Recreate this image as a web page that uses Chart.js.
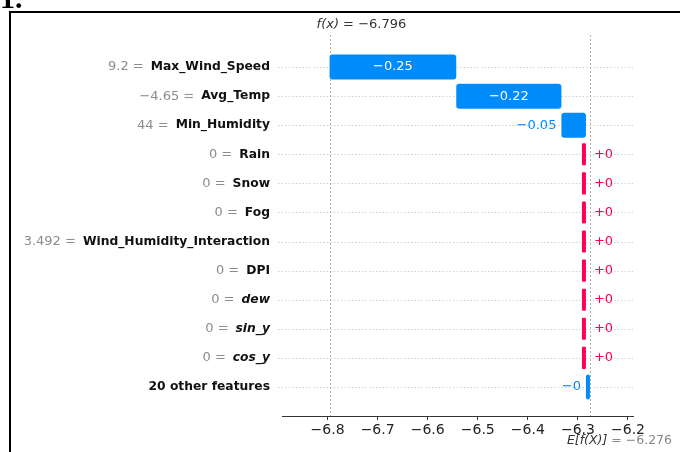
<!DOCTYPE html>
<html>
<head>
<meta charset="utf-8">
<script src="https://cdn.jsdelivr.net/npm/chart.js@4.4.3/dist/chart.umd.min.js"></script>
<style>
  html, body { margin: 0; padding: 0; background: #fff; }
  #wrap { position: relative; width: 680px; height: 452px; overflow: hidden; background: #fff; }
  #chart { position: absolute; left: 0; top: 0; }
  #frame { position: absolute; left: 9px; top: 11px; width: 700px; height: 460px;
           border-top: 2px solid #000; border-left: 2px solid #000; pointer-events: none; }
  #num { position: absolute; left: 0; top: -17px; font: bold 30px "Liberation Serif", serif;
         line-height: 30px; color: #000; }
</style>
</head>
<body>
<div id="wrap">
  <canvas id="chart" width="680" height="452"></canvas>
  <div id="frame"></div>
  <div id="num">1.</div>
</div>
<script>
// SHAP waterfall data (top row first)
const featureValues = ['9.2', '\u22124.65', '44', '0', '0', '0', '3.492', '0', '0', '0', '0', ''];
const featureNames = ['Max_Wind_Speed', 'Avg_Temp', 'Min_Humidity', 'Rain', 'Snow', 'Fog',
  'Wind_Humidity_Interaction', 'DPI', 'dew', 'sin_y', 'cos_y', '20 other features'];
const italicNames = ['dew', 'sin_y', 'cos_y'];
const shapValues = [-0.253, -0.21, -0.049, 0, 0, 0, 0, 0, 0, 0, 0, -0.008];
const shapLabels = ['\u22120.25', '\u22120.22', '\u22120.05', '+0', '+0', '+0', '+0', '+0', '+0', '+0', '+0', '\u22120'];
const baseValue = -6.276;
const fxValue = -6.796;
const xTickValues = [-6.8, -6.7, -6.6, -6.5, -6.4, -6.3, -6.2];
const xMin = -6.891, xMax = -6.19;

const blue = '#008bfb', red = '#ff0051';
const FONT = '"DejaVu Sans", sans-serif';
const minus = s => s.replace('-', '\u2212');

// waterfall runs from the base value at the bottom up to f(x) at the top
const starts = [], ends = [];
let run = baseValue;
for (let i = shapValues.length - 1; i >= 0; i--) {
  starts[i] = run;
  run += shapValues[i];
  ends[i] = run;
}

const negRows = [], posRows = [];
shapValues.forEach((v, i) => {
  const pt = { y: i, x: [starts[i], ends[i]] };
  (v < 0 ? negRows : posRows).push(pt);
});

const waterfallDecor = {
  id: 'waterfallDecor',
  beforeDatasetsDraw(chart) {
    const { ctx, chartArea: a, scales: { x, y } } = chart;
    ctx.save();
    ctx.lineWidth = 1;
    ctx.strokeStyle = '#d0d0d0';
    ctx.setLineDash([1.5, 2]);
    featureNames.forEach((_, i) => {
      const py = Math.round(y.getPixelForValue(i)) + 0.5;
      ctx.beginPath(); ctx.moveTo(a.left - 4, py); ctx.lineTo(a.right, py); ctx.stroke();
    });
    // vertical guides at f(x) and E[f(X)]
    ctx.strokeStyle = '#b0b0b0';
    ctx.setLineDash([2, 2]);
    [fxValue, baseValue].forEach(v => {
      const px = Math.round(x.getPixelForValue(v)) + 0.5;
      ctx.beginPath(); ctx.moveTo(px, a.top - 3); ctx.lineTo(px, a.bottom); ctx.stroke();
    });
    ctx.restore();
  },
  afterDatasetsDraw(chart) {
    const { ctx } = chart;
    ctx.save();
    ctx.font = '13px ' + FONT;
    ctx.textBaseline = 'middle';
    chart.data.datasets.forEach((ds, di) => {
      const meta = chart.getDatasetMeta(di);
      meta.data.forEach((el, j) => {
        const row = ds.data[j].y;
        const txt = shapLabels[row];
        const left = Math.min(el.x, el.base), right = Math.max(el.x, el.base);
        const tw = ctx.measureText(txt).width;
        if (right - left > tw + 8) {
          ctx.fillStyle = '#fff';
          ctx.textAlign = 'center';
          ctx.fillText(txt, (left + right) / 2, el.y);
        } else if (shapValues[row] < 0) {
          ctx.fillStyle = blue;
          ctx.textAlign = 'right';
          ctx.fillText(txt, left - 5, el.y);
        } else {
          ctx.fillStyle = red;
          ctx.textAlign = 'left';
          ctx.fillText(txt, right + 8, el.y);
        }
      });
    });
    ctx.restore();
  },
  afterDraw(chart) {
    const { ctx, chartArea: a, scales: { x, y } } = chart;
    ctx.save();
    ctx.textBaseline = 'middle';
    const labelRight = a.left - 12;
    featureNames.forEach((name, i) => {
      const py = y.getPixelForValue(i);
      ctx.font = (italicNames.includes(name) ? 'italic bold ' : 'bold ') + '12.3px ' + FONT;
      ctx.fillStyle = '#111';
      ctx.textAlign = 'right';
      ctx.fillText(name, labelRight, py);
      if (featureValues[i] !== '') {
        const nw = ctx.measureText(name).width;
        ctx.font = '13px ' + FONT;
        ctx.fillStyle = '#8c8c8c';
        ctx.fillText(featureValues[i] + ' =', labelRight - nw - 7, py);
      }
    });

    // f(x) label at the top
    let px = x.getPixelForValue(fxValue) - 13;
    ctx.textAlign = 'left';
    ctx.font = 'italic 13px ' + FONT;
    ctx.fillStyle = '#333';
    ctx.fillText('f(x)', px, 25);
    px += ctx.measureText('f(x)').width;
    ctx.font = '13px ' + FONT;
    ctx.fillText(' = ' + minus(fxValue.toFixed(3)), px, 25);

    // E[f(X)] label at the bottom
    px = x.getPixelForValue(baseValue) - 23;
    ctx.font = 'italic 12.5px ' + FONT;
    ctx.fillStyle = '#333';
    ctx.fillText('E[f(X)]', px, 441);
    px += ctx.measureText('E[f(X)]').width;
    ctx.font = '12.5px ' + FONT;
    ctx.fillStyle = '#888';
    ctx.fillText(' = ' + minus(baseValue.toFixed(3)), px, 441);
    ctx.restore();
  }
};

new Chart(document.getElementById('chart'), {
  type: 'bar',
  data: {
    datasets: [
      { data: negRows, backgroundColor: blue, barPercentage: 0.86, categoryPercentage: 1,
        grouped: false, minBarLength: 4, borderRadius: 3, borderSkipped: false },
      { data: posRows, backgroundColor: red, barPercentage: 0.76, categoryPercentage: 1,
        grouped: false, minBarLength: 4, borderRadius: 1, borderSkipped: false }
    ]
  },
  options: {
    indexAxis: 'y',
    responsive: false,
    animation: false,
    layout: { padding: { top: 38, right: 47, left: 0, bottom: 0 } },
    plugins: { legend: { display: false }, tooltip: { enabled: false } },
    scales: {
      x: {
        type: 'linear', min: xMin, max: xMax,
        afterBuildTicks: s => { s.ticks = xTickValues.map(v => ({ value: v })); },
        afterFit: s => { s.height = 36; },
        ticks: {
          callback: v => minus(v.toFixed(1)),
          color: '#222', font: { family: FONT, size: 14 }, padding: 2,
          maxRotation: 0, autoSkip: false
        },
        grid: { drawOnChartArea: false, drawTicks: true, tickLength: 4, color: '#333' },
        border: { display: true, color: '#333', width: 1 }
      },
      y: {
        type: 'linear', reverse: true, min: -1, max: 12, offset: false,
        afterFit: s => { s.width = 282; },
        ticks: { display: false },
        grid: { display: false },
        border: { display: false }
      }
    }
  },
  plugins: [waterfallDecor]
});
</script>
</body>
</html>
